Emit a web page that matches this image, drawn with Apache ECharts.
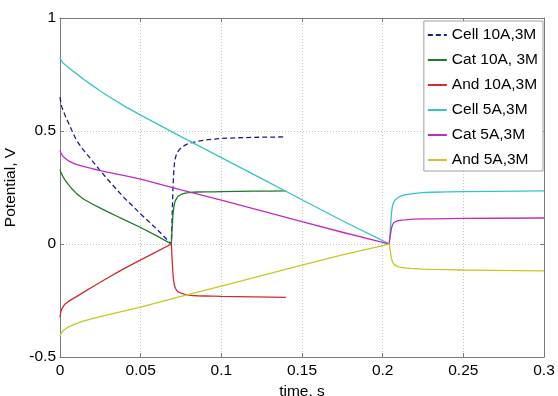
<!DOCTYPE html>
<html>
<head>
<meta charset="utf-8">
<script src="https://cdn.jsdelivr.net/npm/echarts@6/dist/echarts.min.js"></script>
<style>
html, body { margin: 0; padding: 0; background: #fff; }
#chart { width: 558px; height: 396px; }
</style>
</head>
<body>
<div id="chart"></div>
<script>
// 10A run: discharge until ~0.069 s, then relaxation
var t10 = [0, 0.0005, 0.001, 0.002, 0.003, 0.005, 0.0075, 0.01, 0.0125, 0.015,
    0.02, 0.025, 0.03, 0.035, 0.04, 0.05, 0.06, 0.069,
    0.0695, 0.07, 0.0705, 0.071, 0.0715, 0.072, 0.073, 0.074, 0.0755, 0.077,
    0.0785, 0.08, 0.0825, 0.085, 0.09, 0.095, 0.1, 0.11, 0.12, 0.13, 0.14];
var cell10 = [0.65, 0.625, 0.61, 0.59, 0.572, 0.54, 0.5, 0.462, 0.435, 0.412,
    0.368, 0.324, 0.282, 0.242, 0.203, 0.133, 0.066, 0,
    0.12, 0.24, 0.32, 0.36, 0.38, 0.393, 0.408, 0.418, 0.428, 0.435,
    0.441, 0.445, 0.45, 0.454, 0.46, 0.464, 0.467, 0.47, 0.472, 0.473, 0.474];
var cat10 = [0.33, 0.318, 0.31, 0.296, 0.285, 0.265, 0.243, 0.225, 0.21, 0.197,
    0.177, 0.159, 0.141, 0.124, 0.107, 0.073, 0.036, 0,
    0.07, 0.13, 0.16, 0.18, 0.192, 0.2, 0.21, 0.216, 0.221, 0.224,
    0.226, 0.227, 0.229, 0.23, 0.231, 0.231, 0.232, 0.233, 0.234, 0.234, 0.235];
var and10 = [-0.325, -0.3, -0.29, -0.276, -0.267, -0.255, -0.244, -0.234, -0.223, -0.212,
    -0.19, -0.169, -0.148, -0.128, -0.108, -0.07, -0.034, 0,
    -0.07, -0.13, -0.165, -0.185, -0.196, -0.203, -0.211, -0.215, -0.219, -0.222,
    -0.224, -0.226, -0.228, -0.229, -0.23, -0.231, -0.232, -0.233, -0.234, -0.235, -0.236];

// 5A run: discharge until ~0.204 s, then relaxation
var t5 = [0, 0.0005, 0.001, 0.002, 0.003, 0.005, 0.0075, 0.01, 0.015, 0.02,
    0.025, 0.03, 0.04, 0.05, 0.075, 0.1, 0.125, 0.15, 0.175, 0.2,
    0.204, 0.2045, 0.205, 0.2055, 0.206, 0.2065, 0.207, 0.208, 0.209, 0.2105,
    0.212, 0.214, 0.217, 0.22, 0.225, 0.23, 0.24, 0.25, 0.27, 0.3];
var cell5 = [0.825, 0.815, 0.81, 0.8, 0.794, 0.783, 0.768, 0.755, 0.727, 0.702,
    0.677, 0.654, 0.61, 0.57, 0.475, 0.382, 0.289, 0.196, 0.103, 0.015,
    0, 0.04, 0.09, 0.14, 0.165, 0.178, 0.187, 0.197, 0.204, 0.21,
    0.214, 0.218, 0.221, 0.224, 0.227, 0.229, 0.231, 0.232, 0.233, 0.235];
var cat5 = [0.415, 0.403, 0.396, 0.386, 0.379, 0.369, 0.36, 0.352, 0.342, 0.333,
    0.325, 0.317, 0.303, 0.287, 0.24, 0.194, 0.147, 0.099, 0.052, 0.007,
    0, 0.025, 0.05, 0.07, 0.083, 0.09, 0.095, 0.099, 0.102, 0.104,
    0.106, 0.107, 0.109, 0.11, 0.111, 0.111, 0.112, 0.113, 0.114, 0.115];
var and5 = [-0.408, -0.398, -0.392, -0.383, -0.377, -0.368, -0.36, -0.352, -0.34, -0.33,
    -0.321, -0.312, -0.296, -0.279, -0.232, -0.186, -0.14, -0.094, -0.048, -0.007,
    0, -0.02, -0.045, -0.065, -0.077, -0.085, -0.09, -0.095, -0.099, -0.102,
    -0.104, -0.106, -0.108, -0.109, -0.111, -0.112, -0.113, -0.115, -0.117, -0.119];

var names = ['Cell 10A,3M', 'Cat 10A, 3M', 'And 10A,3M', 'Cell 5A,3M', 'Cat 5A,3M', 'And 5A,3M'];
var colors = ['#1c1c96', '#1f7a2a', '#d42a2a', '#35c6c2', '#c02cc0', '#c8c826'];

function pairs(t, v) {
    return t.map(function (x, i) { return [x, v[i]]; });
}

var font = '"Liberation Sans", Arial, sans-serif';
var axisGray = '#7a7a7a';

var myChart = echarts.init(document.getElementById('chart'), null, { renderer: 'canvas' });

var seriesData = [pairs(t10, cell10), pairs(t10, cat10), pairs(t10, and10),
                  pairs(t5, cell5), pairs(t5, cat5), pairs(t5, and5)];

myChart.setOption({
    backgroundColor: '#fff',
    animation: false,
    textStyle: { fontFamily: font },
    grid: { left: 60, right: 14, top: 18, bottom: 39, outerBoundsMode: 'none', containLabel: false },
    legend: {
        orient: 'vertical',
        right: 15,
        top: 21,
        data: names,
        backgroundColor: '#fff',
        borderColor: '#a0a0a0',
        borderWidth: 1,
        borderRadius: 0,
        padding: [6, 5, 3, 3],
        itemWidth: 19,
        itemHeight: 14,
        itemGap: 9,
        itemStyle: { opacity: 0 },
        textStyle: { fontFamily: font, fontSize: 15.5, color: '#000' }
    },
    xAxis: [{
        type: 'value',
        min: 0, max: 0.3, interval: 0.05,
        name: 'time, s',
        nameLocation: 'middle',
        nameGap: 24,
        nameTextStyle: { fontFamily: font, fontSize: 15.5, color: '#000' },
        axisLine: { show: true, onZero: false, lineStyle: { color: axisGray, width: 1 } },
        axisTick: { show: true, inside: true, length: 4, lineStyle: { color: axisGray } },
        axisLabel: { fontFamily: font, fontSize: 15.5, color: '#000', margin: 6 },
        splitLine: { show: true, lineStyle: { color: '#c4c4c4', type: [1, 2], width: 1 } }
    }, {
        type: 'value', position: 'top',
        min: 0, max: 0.3, interval: 0.05,
        axisLine: { show: true, onZero: false, lineStyle: { color: axisGray, width: 1 } },
        axisTick: { show: true, inside: true, length: 4, lineStyle: { color: axisGray } },
        axisLabel: { show: false },
        splitLine: { show: false }
    }],
    yAxis: [{
        type: 'value',
        min: -0.5, max: 1, interval: 0.5,
        name: 'Potential, V',
        nameLocation: 'middle',
        nameGap: 35,
        nameTextStyle: { fontFamily: font, fontSize: 15.5, color: '#000' },
        axisLine: { show: true, onZero: false, lineStyle: { color: axisGray, width: 1 } },
        axisTick: { show: true, inside: true, length: 4, lineStyle: { color: axisGray } },
        axisLabel: { fontFamily: font, fontSize: 15.5, color: '#000', margin: 4 },
        splitLine: { show: true, lineStyle: { color: '#c4c4c4', type: [1, 2], width: 1 } }
    }, {
        type: 'value', position: 'right',
        min: -0.5, max: 1, interval: 0.5,
        axisLine: { show: true, onZero: false, lineStyle: { color: axisGray, width: 1 } },
        axisTick: { show: true, inside: true, length: 4, lineStyle: { color: axisGray } },
        axisLabel: { show: false },
        splitLine: { show: false }
    }],
    series: names.map(function (n, i) {
        return {
            name: n,
            type: 'line',
            data: seriesData[i],
            symbol: 'none',
            smooth: false,
            lineStyle: {
                color: colors[i],
                width: 1.3,
                type: i === 0 ? [5, 3] : 'solid'
            },
            itemStyle: { color: colors[i] }
        };
    })
});
</script>
</body>
</html>
